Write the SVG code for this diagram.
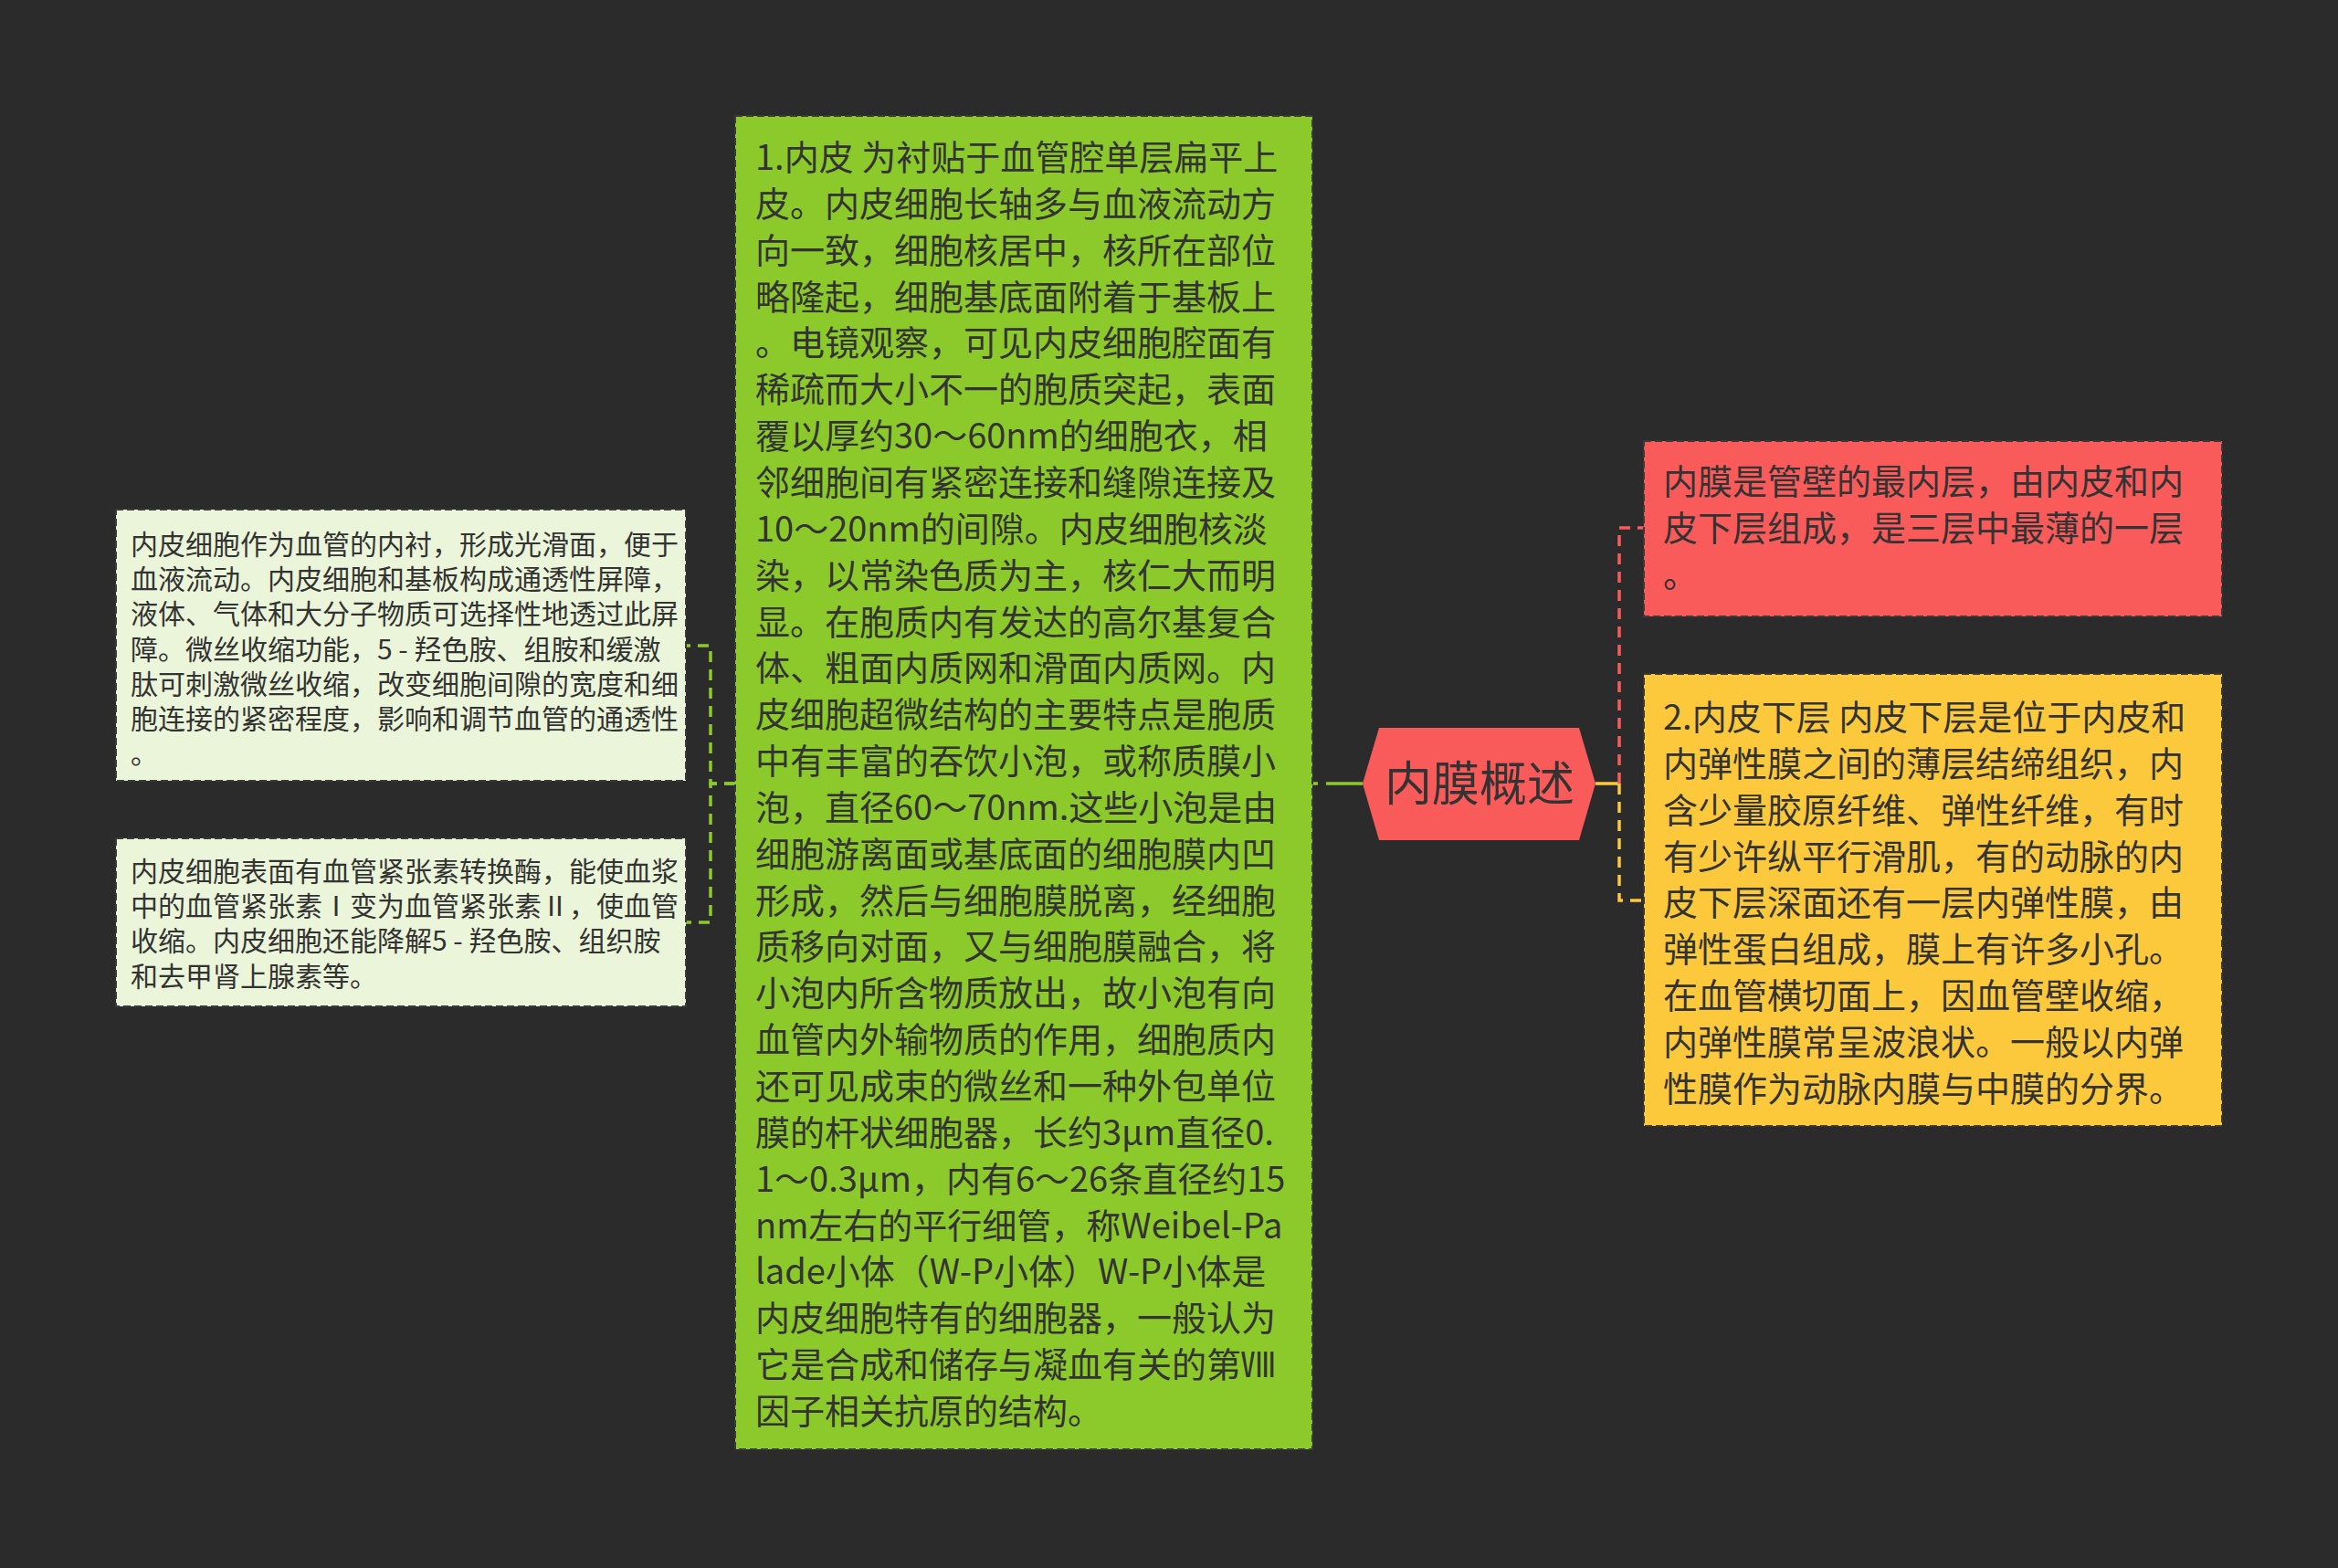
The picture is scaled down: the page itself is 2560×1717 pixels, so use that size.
<svg xmlns="http://www.w3.org/2000/svg" width="2560" height="1717" viewBox="0 0 2560 1717">
<style>
.t{font-family:"Noto Sans CJK SC","Noto Sans",sans-serif;fill:#333333}
.big{font-size:38px}
.small{font-size:30px}
.box{stroke:#3a3a3a;stroke-width:2;stroke-dasharray:8 4}
.conn{fill:none;stroke-width:3.5}
</style>
<rect x="0" y="0" width="2560" height="1717" fill="#2b2b2b"/>
<g id="connectors">
  <path class="conn" d="M1492 858 H1437" stroke="#8cc92a" stroke-dasharray="40 9"/>
  <path class="conn" d="M805 858 H778 V707 H751" stroke="#8cc92a" stroke-dasharray="12 8"/>
  <path class="conn" d="M805 858 H778 V1010 H751" stroke="#8cc92a" stroke-dasharray="12 8"/>
  <path class="conn" d="M1747 858 H1773" stroke="#fcc93c"/>
  <path class="conn" d="M1773 858 V578 H1800" stroke="#f95b5b" stroke-dasharray="12 8"/>
  <path class="conn" d="M1773 858 V986 H1800" stroke="#fcc93c" stroke-dasharray="12 8"/>
</g>
<g id="root">
  <polygon points="1492,858 1510,797 1729,797 1747,858 1729,920 1510,920" fill="#f95b5b"/>
  <text class="t" x="1620" y="877" font-size="52" text-anchor="middle">内膜概述</text>
</g>
<g id="node-endothelium">
  <rect class="box" x="805" y="127" width="632" height="1460" fill="#8cc92a"/>
  <text class="t big" x="827" y="186">
    <tspan x="827" y="186">1.内皮 为衬贴于血管腔单层扁平上</tspan>
    <tspan x="827" dy="50.85">皮。内皮细胞长轴多与血液流动方</tspan>
    <tspan x="827" dy="50.85">向一致，细胞核居中，核所在部位</tspan>
    <tspan x="827" dy="50.85">略隆起，细胞基底面附着于基板上</tspan>
    <tspan x="827" dy="50.85">。电镜观察，可见内皮细胞腔面有</tspan>
    <tspan x="827" dy="50.85">稀疏而大小不一的胞质突起，表面</tspan>
    <tspan x="827" dy="50.85">覆以厚约30～60nm的细胞衣，相</tspan>
    <tspan x="827" dy="50.85">邻细胞间有紧密连接和缝隙连接及</tspan>
    <tspan x="827" dy="50.85">10～20nm的间隙。内皮细胞核淡</tspan>
    <tspan x="827" dy="50.85">染，以常染色质为主，核仁大而明</tspan>
    <tspan x="827" dy="50.85">显。在胞质内有发达的高尔基复合</tspan>
    <tspan x="827" dy="50.85">体、粗面内质网和滑面内质网。内</tspan>
    <tspan x="827" dy="50.85">皮细胞超微结构的主要特点是胞质</tspan>
    <tspan x="827" dy="50.85">中有丰富的吞饮小泡，或称质膜小</tspan>
    <tspan x="827" dy="50.85">泡，直径60～70nm.这些小泡是由</tspan>
    <tspan x="827" dy="50.85">细胞游离面或基底面的细胞膜内凹</tspan>
    <tspan x="827" dy="50.85">形成，然后与细胞膜脱离，经细胞</tspan>
    <tspan x="827" dy="50.85">质移向对面，又与细胞膜融合，将</tspan>
    <tspan x="827" dy="50.85">小泡内所含物质放出，故小泡有向</tspan>
    <tspan x="827" dy="50.85">血管内外输物质的作用，细胞质内</tspan>
    <tspan x="827" dy="50.85">还可见成束的微丝和一种外包单位</tspan>
    <tspan x="827" dy="50.85">膜的杆状细胞器，长约3μm直径0.</tspan>
    <tspan x="827" dy="50.85">1～0.3μm，内有6～26条直径约15</tspan>
    <tspan x="827" dy="50.85">nm左右的平行细管，称Weibel-Pa</tspan>
    <tspan x="827" dy="50.85">lade小体（W-P小体）W-P小体是</tspan>
    <tspan x="827" dy="50.85">内皮细胞特有的细胞器，一般认为</tspan>
    <tspan x="827" dy="50.85">它是合成和储存与凝血有关的第Ⅷ</tspan>
    <tspan x="827" dy="50.85">因子相关抗原的结构。</tspan>
  </text>
</g>
<g id="node-intima">
  <rect class="box" x="1800" y="483" width="633" height="192" fill="#f95b5b"/>
  <text class="t big">
    <tspan x="1821" y="541">内膜是管壁的最内层，由内皮和内</tspan>
    <tspan x="1821" dy="50.85">皮下层组成，是三层中最薄的一层</tspan>
    <tspan x="1821" dy="50.85">。</tspan>
  </text>
</g>
<g id="node-subendothelium">
  <rect class="box" x="1800" y="738" width="633" height="495" fill="#fcc93c"/>
  <text class="t big">
    <tspan x="1821" y="799">2.内皮下层 内皮下层是位于内皮和</tspan>
    <tspan x="1821" dy="50.85">内弹性膜之间的薄层结缔组织，内</tspan>
    <tspan x="1821" dy="50.85">含少量胶原纤维、弹性纤维，有时</tspan>
    <tspan x="1821" dy="50.85">有少许纵平行滑肌，有的动脉的内</tspan>
    <tspan x="1821" dy="50.85">皮下层深面还有一层内弹性膜，由</tspan>
    <tspan x="1821" dy="50.85">弹性蛋白组成，膜上有许多小孔。</tspan>
    <tspan x="1821" dy="50.85">在血管横切面上，因血管壁收缩，</tspan>
    <tspan x="1821" dy="50.85">内弹性膜常呈波浪状。一般以内弹</tspan>
    <tspan x="1821" dy="50.85">性膜作为动脉内膜与中膜的分界。</tspan>
  </text>
</g>
<g id="node-function1">
  <rect class="box" x="127" y="558" width="624" height="297" fill="#ebf5d9"/>
  <text class="t small">
    <tspan x="143" y="607">内皮细胞作为血管的内衬，形成光滑面，便于</tspan>
    <tspan x="143" dy="38.2">血液流动。内皮细胞和基板构成通透性屏障，</tspan>
    <tspan x="143" dy="38.2">液体、气体和大分子物质可选择性地透过此屏</tspan>
    <tspan x="143" dy="38.2">障。微丝收缩功能，5 - 羟色胺、组胺和缓激</tspan>
    <tspan x="143" dy="38.2">肽可刺激微丝收缩，改变细胞间隙的宽度和细</tspan>
    <tspan x="143" dy="38.2">胞连接的紧密程度，影响和调节血管的通透性</tspan>
    <tspan x="143" dy="38.2">。</tspan>
  </text>
</g>
<g id="node-function2">
  <rect class="box" x="127" y="918" width="624" height="184" fill="#ebf5d9"/>
  <text class="t small">
    <tspan x="143" y="965">内皮细胞表面有血管紧张素转换酶，能使血浆</tspan>
    <tspan x="143" dy="38.2">中的血管紧张素Ⅰ变为血管紧张素Ⅱ，使血管</tspan>
    <tspan x="143" dy="38.2">收缩。内皮细胞还能降解5 - 羟色胺、组织胺</tspan>
    <tspan x="143" dy="38.2">和去甲肾上腺素等。</tspan>
  </text>
</g>
</svg>
